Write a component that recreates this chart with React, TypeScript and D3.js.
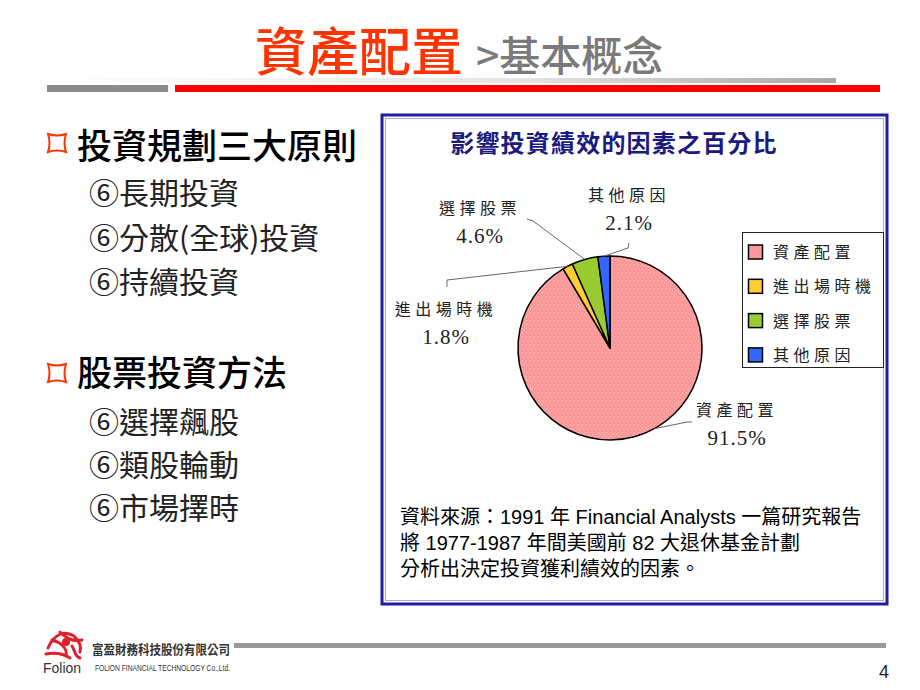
import React from 'react';
import * as d3 from 'd3';

const categories = ['資產配置', '進出場時機', '選擇股票', '其他原因'];
const values = [91.5, 1.8, 4.6, 2.1];
const valueLabels = ['91.5%', '1.8%', '4.6%', '2.1%'];
const colors = ['#FF9999', '#FFCC33', '#99CC33', '#3366FF'];

const chartTitle = '影響投資績效的因素之百分比';
const pageTitle = '資產配置';
const pageSubtitle = '>基本概念';
const group1Head = '投資規劃三大原則';
const group1Items = ['長期投資', '分散(全球)投資', '持續投資'];
const group2Head = '股票投資方法';
const group2Items = ['選擇飆股', '類股輪動', '市場擇時'];
const sourceLines = [
  '資料來源：1991 年 Financial Analysts 一篇研究報告',
  '將 1977-1987 年間美國前 82 大退休基金計劃',
  '分析出決定投資獲利績效的因素。',
];
const companyName = '富盈財務科技股份有限公司';
const companyEn = 'FOLION FINANCIAL TECHNOLOGY Co.,Ltd.';
const pageNo = '4';

// layout of data labels (label center x, name baseline y, leader elbow points, leader start fraction in slice)
const labelLayout = [
  { cx: 737, y: 416, leader: [[687, 422], [692, 422]], at: 0.46 },
  { cx: 446, y: 315, leader: [[447, 280], [447, 287]], at: 0.5 },
  { cx: 480, y: 214, leader: [[533, 221], [527, 219]], at: 0.5 },
  { cx: 629, y: 201, leader: [[628, 248], [629, 243]], at: 0.5 },
];

const CJK = '"Noto Sans CJK TC", "Noto Sans CJK SC", sans-serif';
const SANS = '"Liberation Sans", Arial, "Noto Sans CJK TC", sans-serif';
const SERIF = '"Liberation Serif", "DejaVu Serif", serif';

function Bullet({ x, y }: { x: number; y: number }) {
  const s = 9;
  const k = 3;
  const d = `M${x - s},${y - s} Q${x},${y - s + k} ${x + s},${y - s} Q${x + s - k},${y} ${x + s},${y + s} Q${x},${y + s - k} ${x - s},${y + s} Q${x - s + k},${y} ${x - s},${y - s} Z`;
  return <path d={d} fill="none" stroke="#FF3300" strokeWidth={2} />;
}

export default function App() {
  const cx = 610;
  const cy = 348;
  const r = 92;
  const pie = d3.pie<number>().sort(null).value((d) => d);
  const arcs = pie(values);
  const arcGen = d3.arc<d3.PieArcDatum<number>>().innerRadius(0).outerRadius(r);

  const lineGen = d3.line();

  const subX = 89;
  const g1Base = [204, 249, 293];
  const g2Base = [433, 476, 519];

  return (
    <svg width={920} height={690} style={{ position: 'absolute', left: 0, top: 0, background: '#fff' }}>
      <defs>
        <linearGradient id="hdrGrad" x1="0" x2="1" y1="0" y2="0">
          <stop offset="0" stopColor="#ffffff" />
          <stop offset="0.6" stopColor="#e4e4e4" />
          <stop offset="1" stopColor="#a8a8a8" />
        </linearGradient>
        <pattern id="dots" width="4" height="4" patternUnits="userSpaceOnUse">
          <rect width="4" height="4" fill="#FF9595" />
          <rect width="1" height="1" fill="#FFC8C8" />
          <rect x="2" y="2" width="1" height="1" fill="#FFB8B8" />
        </pattern>
      </defs>

      {/* Page title */}
      <text x={255} y={71} fontFamily={CJK} fontSize={52} fontWeight={500} fill="#FF3300">
        {pageTitle}
      </text>
      <text x={476} y={71} fontFamily={CJK} fontSize={41} fontWeight={500} fill="#7a7a7a">
        {pageSubtitle}
      </text>

      {/* Header bars */}
      <rect x={47} y={78} width={789} height={5} fill="url(#hdrGrad)" />
      <rect x={47} y={85} width={121} height={7} fill="#8a8a8a" />
      <rect x={175} y={85} width={705} height={7} fill="#FF0000" />

      {/* Left bullets */}
      <Bullet x={57} y={143} />
      <text x={77} y={159} fontFamily={CJK} fontSize={35} fontWeight={500} fill="#000">
        {group1Head}
      </text>
      {group1Items.map((t, i) => (
        <text key={t} x={subX} y={g1Base[i]} fontFamily={CJK} fontSize={30} fontWeight={400} fill="#222">
          {'⑥' + t}
        </text>
      ))}
      <Bullet x={57} y={373} />
      <text x={77} y={386} fontFamily={CJK} fontSize={35} fontWeight={500} fill="#000">
        {group2Head}
      </text>
      {group2Items.map((t, i) => (
        <text key={t} x={subX} y={g2Base[i]} fontFamily={CJK} fontSize={30} fontWeight={400} fill="#222">
          {'⑥' + t}
        </text>
      ))}

      {/* Chart box */}
      <rect x={382} y={115} width={505} height={489} fill="#fff" stroke="#1f1fa0" strokeWidth={3} />
      <rect x={385.5} y={118.5} width={498} height={482} fill="none" stroke="#a8a8e0" strokeWidth={1} />

      <text x={614} y={152} textAnchor="middle" fontFamily={CJK} fontSize={24} fontWeight={700} fill="#1a1a80" letterSpacing={1.2}>
        {chartTitle}
      </text>

      {/* Pie */}
      <g transform={`translate(${cx},${cy})`}>
        {arcs.map((a, i) => (
          <path key={i} d={arcGen(a) || ''} fill={i === 0 ? 'url(#dots)' : colors[i]} stroke="#000" strokeWidth={1.5} strokeLinejoin="round" />
        ))}
      </g>

      {/* Leader lines + labels */}
      {arcs.map((a, i) => {
        const L = labelLayout[i];
        const ang = a.startAngle + (a.endAngle - a.startAngle) * L.at;
        const sx = cx + r * Math.sin(ang);
        const sy = cy - r * Math.cos(ang);
        const pts: [number, number][] = [[sx, sy], ...(L.leader as [number, number][])];
        return (
          <g key={'lbl' + i}>
            <path d={lineGen(pts) || ''} fill="none" stroke="#666" strokeWidth={1} />
            <text x={L.cx} y={L.y} textAnchor="middle" fontFamily={CJK} fontSize={16} fill="#222" letterSpacing={4.5}>
              {categories[i]}
            </text>
            <text x={L.cx} y={L.y + 29} textAnchor="middle" fontFamily={SERIF} fontSize={21} fill="#222" letterSpacing={1}>
              {valueLabels[i]}
            </text>
          </g>
        );
      })}

      {/* Legend */}
      <rect x={742.5} y={232.5} width={141} height={135} fill="#fff" stroke="#222" strokeWidth={1} />
      {categories.map((c, i) => {
        const y = 252 + i * 34.3;
        return (
          <g key={'lg' + i}>
            <rect x={748.5} y={y - 7} width={14} height={14} fill={colors[i]} stroke="#000" strokeWidth={1.5} />
            <text x={773} y={y + 6} fontFamily={CJK} fontSize={16} fill="#222" letterSpacing={4.5}>
              {c}
            </text>
          </g>
        );
      })}

      {/* Source text */}
      {sourceLines.map((t, i) => (
        <text key={'src' + i} x={400} y={524 + i * 26} fontFamily={SANS} fontSize={20} fill="#000">
          {t}
        </text>
      ))}

      {/* Footer */}
      <g transform="translate(64,644)">
        <path d="M-16,4 C-10,-10 0,-14 10,-8 C14,-4 18,2 16,8 M-12,-4 C-4,-2 4,4 2,12 M-4,-12 C2,-6 8,-2 18,-4 M-18,10 C-8,8 0,10 6,14 M8,2 C12,8 10,12 16,14" fill="none" stroke="#E0202A" strokeWidth={3} strokeLinecap="round" />
        <circle cx={2} cy={-2} r={4} fill="#E0202A" />
      </g>
      <text x={43} y={673} fontFamily={SANS} fontSize={14} fill="#333">
        Folion
      </text>
      <text x={92} y={654} fontFamily={CJK} fontSize={13} fontWeight={700} fill="#333" textLength={138} lengthAdjust="spacingAndGlyphs">
        {companyName}
      </text>
      <text x={95} y={671} fontFamily={SANS} fontSize={9} fill="#333" textLength={135} lengthAdjust="spacingAndGlyphs">
        {companyEn}
      </text>
      <rect x={234} y={643} width={652} height={5} fill="#9a9a9a" />
      <text x={889} y={678} textAnchor="end" fontFamily={SANS} fontSize={18} fill="#222">
        {pageNo}
      </text>
    </svg>
  );
}
